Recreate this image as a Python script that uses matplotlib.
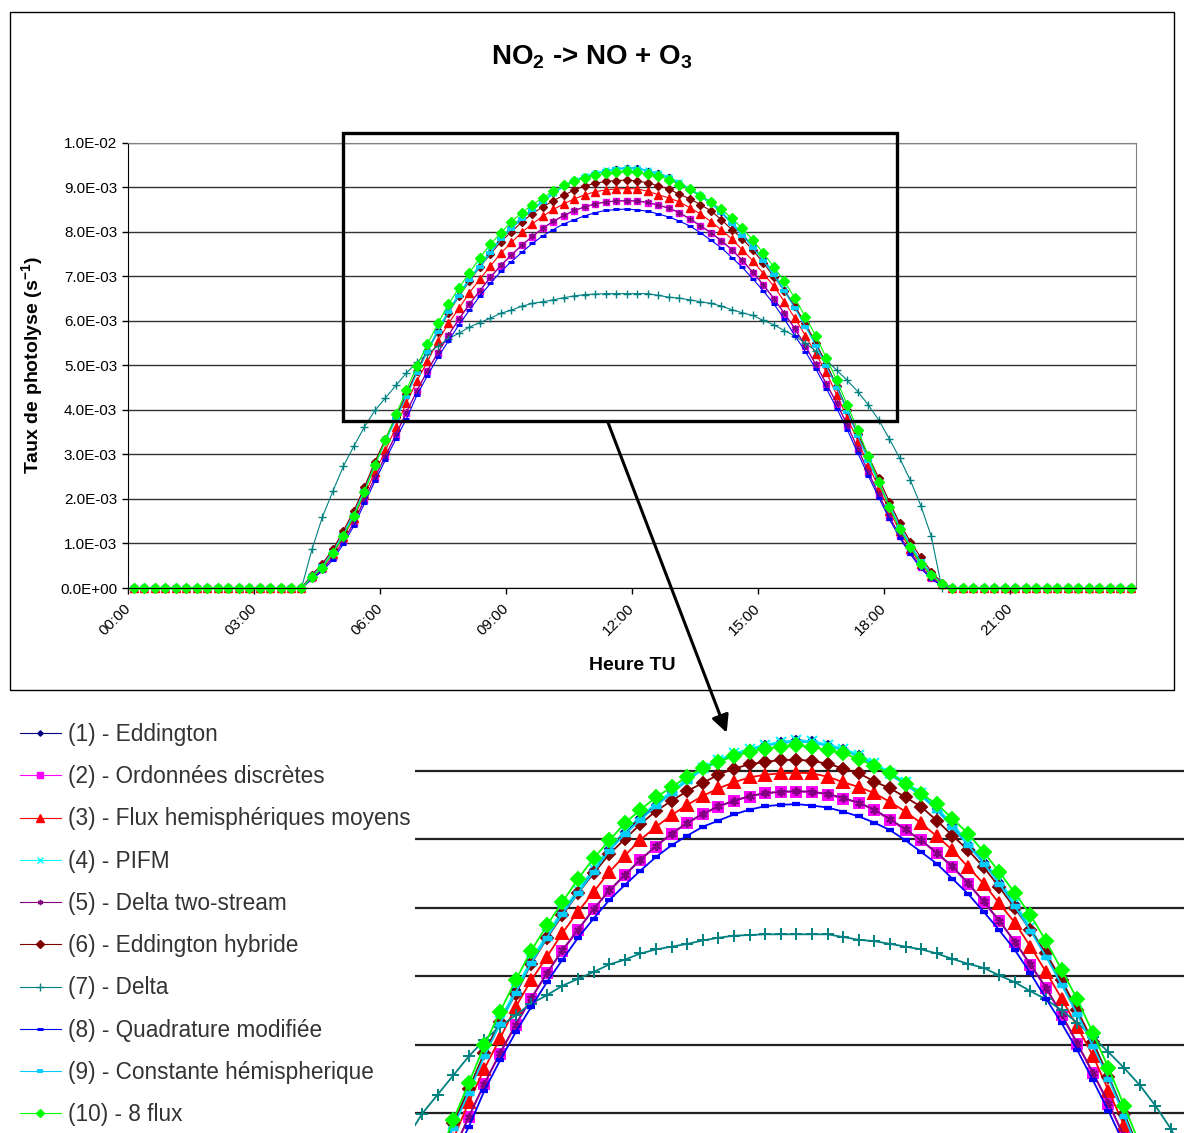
import numpy as np
import matplotlib
matplotlib.use('Agg')
import matplotlib.pyplot as plt
from matplotlib.patches import Rectangle, FancyArrowPatch

plt.rcParams['font.family'] = ['Liberation Sans', 'DejaVu Sans']
plt.rcParams['mathtext.fontset'] = 'custom'
plt.rcParams['mathtext.rm'] = 'Liberation Sans'
plt.rcParams['mathtext.bf'] = 'Liberation Sans:bold'

# Categories: one per quarter hour
time_labels = ['%02d:%02d' % (h, m) for h in range(24) for m in (0, 15, 30, 45)]
n_night_before = 17   # 00:00 .. 04:00 at zero
n_night_after = 18    # 19:30 .. 23:45 at zero
scale = 1e-3

# Daytime values (04:15 .. 19:15), in 1E-03 s-1
eddington = [0.27, 0.50, 0.81, 1.22, 1.67, 2.21, 2.79, 3.33, 3.82, 4.34, 4.86, 5.33, 5.79, 6.22, 6.59, 6.94,
             7.23, 7.55, 7.86, 8.10, 8.31, 8.50, 8.69, 8.87, 9.04, 9.15, 9.24, 9.31, 9.37, 9.41, 9.44,
             9.43, 9.37, 9.32, 9.22, 9.10, 8.96, 8.82, 8.66, 8.44, 8.20, 7.93, 7.67, 7.38, 7.05, 6.69,
             6.31, 5.90, 5.47, 5.01, 4.53, 3.99, 3.43, 2.88, 2.36, 1.86, 1.38, 0.97, 0.61, 0.32, 0.10]
ordonnees = [0.22, 0.42, 0.69, 1.05, 1.47, 1.98, 2.48, 2.96, 3.44, 3.94, 4.43, 4.87, 5.28, 5.67, 6.04, 6.37,
             6.67, 6.98, 7.24, 7.47, 7.70, 7.89, 8.08, 8.23, 8.36, 8.47, 8.56, 8.62, 8.67, 8.69, 8.69,
             8.69, 8.65, 8.59, 8.53, 8.42, 8.28, 8.13, 7.98, 7.79, 7.59, 7.35, 7.08, 6.80, 6.50, 6.16,
             5.82, 5.43, 5.01, 4.58, 4.14, 3.65, 3.12, 2.60, 2.09, 1.60, 1.16, 0.80, 0.47, 0.22, 0.06]
flux_hemi = [0.26, 0.47, 0.76, 1.15, 1.58, 2.10, 2.60, 3.09, 3.62, 4.16, 4.65, 5.09, 5.55, 5.94, 6.28, 6.63,
             6.94, 7.23, 7.52, 7.76, 7.99, 8.18, 8.35, 8.50, 8.63, 8.74, 8.83, 8.90, 8.94, 8.96, 8.97,
             8.96, 8.91, 8.83, 8.76, 8.67, 8.54, 8.40, 8.23, 8.04, 7.84, 7.59, 7.35, 7.06, 6.78, 6.43,
             6.06, 5.67, 5.26, 4.84, 4.33, 3.82, 3.30, 2.76, 2.25, 1.74, 1.27, 0.87, 0.53, 0.27, 0.08]
pifm = [0.27, 0.50, 0.82, 1.23, 1.68, 2.22, 2.80, 3.34, 3.84, 4.36, 4.88, 5.35, 5.81, 6.24, 6.61, 6.96,
        7.26, 7.57, 7.87, 8.12, 8.33, 8.52, 8.70, 8.88, 9.04, 9.16, 9.25, 9.32, 9.38, 9.42, 9.44,
        9.43, 9.38, 9.32, 9.23, 9.11, 8.97, 8.83, 8.67, 8.46, 8.22, 7.95, 7.69, 7.40, 7.07, 6.71,
        6.32, 5.92, 5.49, 5.03, 4.55, 4.01, 3.45, 2.90, 2.37, 1.87, 1.39, 0.97, 0.61, 0.32, 0.10]
delta_two = [0.22, 0.42, 0.70, 1.06, 1.48, 1.99, 2.49, 2.97, 3.45, 3.95, 4.43, 4.88, 5.29, 5.68, 6.04, 6.38,
             6.68, 6.98, 7.25, 7.48, 7.70, 7.90, 8.08, 8.24, 8.37, 8.48, 8.56, 8.63, 8.67, 8.69, 8.70,
             8.69, 8.66, 8.60, 8.53, 8.43, 8.29, 8.14, 7.98, 7.80, 7.60, 7.36, 7.09, 6.81, 6.50, 6.17,
             5.83, 5.44, 5.02, 4.59, 4.15, 3.66, 3.13, 2.61, 2.10, 1.61, 1.17, 0.80, 0.48, 0.22, 0.06]
eddington_hyb = [0.30, 0.55, 0.87, 1.29, 1.74, 2.27, 2.84, 3.35, 3.85, 4.35, 4.88, 5.33, 5.74, 6.18, 6.55, 6.89,
                 7.21, 7.50, 7.78, 8.00, 8.22, 8.41, 8.56, 8.70, 8.82, 8.94, 9.03, 9.09, 9.13, 9.15, 9.16,
                 9.14, 9.10, 9.03, 8.96, 8.84, 8.74, 8.61, 8.47, 8.27, 8.05, 7.84, 7.59, 7.30, 6.99, 6.67,
                 6.33, 5.94, 5.50, 5.04, 4.53, 3.99, 3.45, 2.97, 2.46, 1.94, 1.45, 1.04, 0.69, 0.37, 0.12]
delta = [0.87, 1.60, 2.18, 2.74, 3.19, 3.62, 3.99, 4.27, 4.55, 4.83, 5.07, 5.26, 5.43, 5.60, 5.72, 5.86,
         5.96, 6.06, 6.17, 6.24, 6.33, 6.39, 6.43, 6.47, 6.52, 6.56, 6.59, 6.60, 6.61, 6.61, 6.61,
         6.61, 6.61, 6.57, 6.53, 6.51, 6.47, 6.43, 6.39, 6.33, 6.25, 6.18, 6.12, 6.01, 5.91, 5.78,
         5.66, 5.50, 5.32, 5.11, 4.89, 4.66, 4.41, 4.11, 3.77, 3.35, 2.91, 2.42, 1.85, 1.16, 0.00]
quadrature = [0.20, 0.38, 0.64, 0.99, 1.40, 1.90, 2.40, 2.88, 3.35, 3.80, 4.33, 4.77, 5.18, 5.55, 5.91, 6.24,
              6.56, 6.84, 7.11, 7.33, 7.54, 7.74, 7.91, 8.05, 8.18, 8.27, 8.36, 8.43, 8.48, 8.50, 8.51,
              8.49, 8.46, 8.40, 8.33, 8.24, 8.13, 7.98, 7.81, 7.64, 7.42, 7.20, 6.94, 6.67, 6.38, 6.04,
              5.67, 5.31, 4.92, 4.48, 4.03, 3.55, 3.03, 2.52, 2.03, 1.55, 1.12, 0.76, 0.44, 0.20, 0.05]
constante_hemi = [0.26, 0.49, 0.80, 1.20, 1.65, 2.18, 2.76, 3.29, 3.79, 4.30, 4.83, 5.30, 5.76, 6.19, 6.56, 6.91,
                  7.21, 7.52, 7.83, 8.07, 8.28, 8.48, 8.67, 8.85, 9.02, 9.13, 9.22, 9.30, 9.36, 9.40, 9.42,
                  9.41, 9.36, 9.30, 9.20, 9.08, 8.94, 8.79, 8.63, 8.42, 8.17, 7.91, 7.64, 7.35, 7.02, 6.66,
                  6.28, 5.87, 5.44, 4.98, 4.50, 3.96, 3.41, 2.86, 2.34, 1.84, 1.36, 0.95, 0.60, 0.31, 0.10]
huit_flux = [0.24, 0.46, 0.79, 1.17, 1.62, 2.16, 2.76, 3.32, 3.90, 4.44, 4.99, 5.48, 5.94, 6.37, 6.74, 7.08,
             7.42, 7.72, 7.98, 8.23, 8.43, 8.61, 8.76, 8.91, 9.04, 9.13, 9.21, 9.27, 9.32, 9.35, 9.37,
             9.34, 9.30, 9.25, 9.17, 9.06, 8.96, 8.81, 8.66, 8.51, 8.30, 8.08, 7.81, 7.52, 7.21, 6.89,
             6.51, 6.09, 5.66, 5.17, 4.66, 4.11, 3.55, 2.97, 2.38, 1.81, 1.32, 0.91, 0.55, 0.29, 0.09]

series_labels = ['(1) - Eddington', '(2) - Ordonnées discrètes', '(3) - Flux hemisphériques moyens',
                 '(4) - PIFM', '(5) - Delta two-stream', '(6) - Eddington hybride', '(7) - Delta',
                 '(8) - Quadrature modifiée', '(9) - Constante hémispherique', '(10) - 8 flux']
series_values = [eddington, ordonnees, flux_hemi, pifm, delta_two, eddington_hyb, delta,
                 quadrature, constante_hemi, huit_flux]

# Style: colour, marker, marker size, marker edge width
Styles = [
    ('#000080', 'D', 3.2, 1.0),
    ('#FF00FF', 's', 4.8, 1.0),
    ('#FF0000', '^', 6.0, 1.0),
    ('#00FFFF', 'x', 5.0, 1.0),
    ('#800080', (6, 2, 0), 4.5, 1.0),
    ('#800000', 'D', 4.3, 1.0),
    ('#008080', '+', 6.0, 1.0),
    ('#0000FF', '_', 4.5, 2.2),
    ('#00CCFF', '_', 5.5, 2.8),
    ('#00FF00', 'D', 5.3, 1.0),
]

def Full_Day(Values):
	return np.concatenate([np.zeros(n_night_before), np.array(Values), np.zeros(n_night_after)]) * scale

x_pos = np.arange(len(time_labels)) + 0.5

W, H = 1184, 1133
fig = plt.figure(figsize=(W / 100, H / 100), dpi=100)

# Chart frame
fig.add_artist(Rectangle((10 / W, 1 - 690 / H), 1164 / W, 678 / H, transform=fig.transFigure,
                         fill=False, ec='k', lw=1.0))

# ==================================================
# Main chart
ax = fig.add_axes([128.3 / W, 1 - 588 / H, (1136 - 128.3) / W, (588 - 142.7) / H])
Lines = []
for i_Values, i_Style in zip(series_values, Styles):
	Color, Marker, Ms, Mew = i_Style
	Line, = ax.plot(x_pos, Full_Day(i_Values), color=Color, marker=Marker, markersize=Ms,
	                markeredgewidth=Mew, markeredgecolor=Color, linewidth=0.8, clip_on=False)
	Lines.append(Line)

ax.set_xlim(0, len(time_labels))
ax.set_ylim(0, 0.01)
ax.set_yticks(np.arange(0, 0.0101, 0.001))
ax.set_yticklabels(['%.1E' % v for v in np.arange(0, 0.0101, 0.001)], fontsize=11)
ax.set_xticks(np.arange(0, len(time_labels), 12))
ax.set_xticklabels(time_labels[::12], rotation=45, ha='right', va='center', rotation_mode='anchor', fontsize=11)
ax.tick_params(axis='both', direction='out', length=4, width=1, color='k', pad=4)
ax.tick_params(axis='x', pad=9)
ax.grid(axis='y', color='#333333', linewidth=1.0)
ax.set_axisbelow(True)
for Side in ['top', 'right']:
	ax.spines[Side].set_color('#808080')
ax.spines['left'].set_color('k')
ax.spines['bottom'].set_color('k')

ax.set_ylabel(r'Taux de photolyse (s$^{\mathbf{-1}}$)', fontsize=14, fontweight='bold')
ax.yaxis.set_label_coords(-0.082, 0.5)
ax.set_xlabel('Heure TU', fontsize=14, fontweight='bold')
ax.xaxis.set_label_coords(0.5, -0.155)

fig.text(592 / W, 1 - 57 / H, r'$\mathbf{NO_2}$ -> NO + $\mathbf{O_3}$', fontsize=20, fontweight='bold',
         ha='center', va='center')

# Zoom box
ax.add_patch(Rectangle((20.48, 3.75e-3), 73.24 - 20.48, 10.21e-3 - 3.75e-3, fill=False, ec='k',
                       lw=2.4, clip_on=False, zorder=20))

# ==================================================
# Zoomed inset
ax_in = fig.add_axes([415 / W, 0, (W - 415) / W, 433 / H])
ax_in.patch.set_visible(False)
for i_Values, i_Style in zip(series_values, Styles):
	Color, Marker, Ms, Mew = i_Style
	ax_in.plot(x_pos, Full_Day(i_Values), color=Color, marker=Marker, markersize=Ms * 1.4,
	           markeredgewidth=Mew * 1.4, markeredgecolor=Color, linewidth=1.3)
ax_in.set_xlim(23.05, 72.34)
ax_in.set_ylim(3.71e-3, 10.03e-3)
ax_in.set_yticks(np.arange(0.004, 0.0091, 0.001))
ax_in.grid(axis='y', color='#222222', linewidth=1.6)
ax_in.set_axisbelow(True)
ax_in.tick_params(left=False, bottom=False, labelleft=False, labelbottom=False)
for Side in ax_in.spines:
	ax_in.spines[Side].set_visible(False)

# Arrow from the zoom box to the inset (drawn above both axes)
fig.add_artist(FancyArrowPatch((607.7 / W, 1 - 421.7 / H), (726.7 / W, 1 - 732.7 / H),
                               transform=fig.transFigure, arrowstyle='-|>', color='k', lw=2.2,
                               mutation_scale=26, shrinkA=0, shrinkB=0, zorder=10))

# ==================================================
# Legend
fig.legend(Lines, series_labels, loc='upper left', bbox_to_anchor=(20 / W, 1 - 723 / H),
           bbox_transform=fig.transFigure, frameon=False, fontsize=16.3, labelcolor='#333333',
           handlelength=1.8, handletextpad=0.3, labelspacing=0.85, borderpad=0, borderaxespad=0,
           markerscale=0.85)

plt.savefig('out.png', dpi=100)
plt.close('all')
